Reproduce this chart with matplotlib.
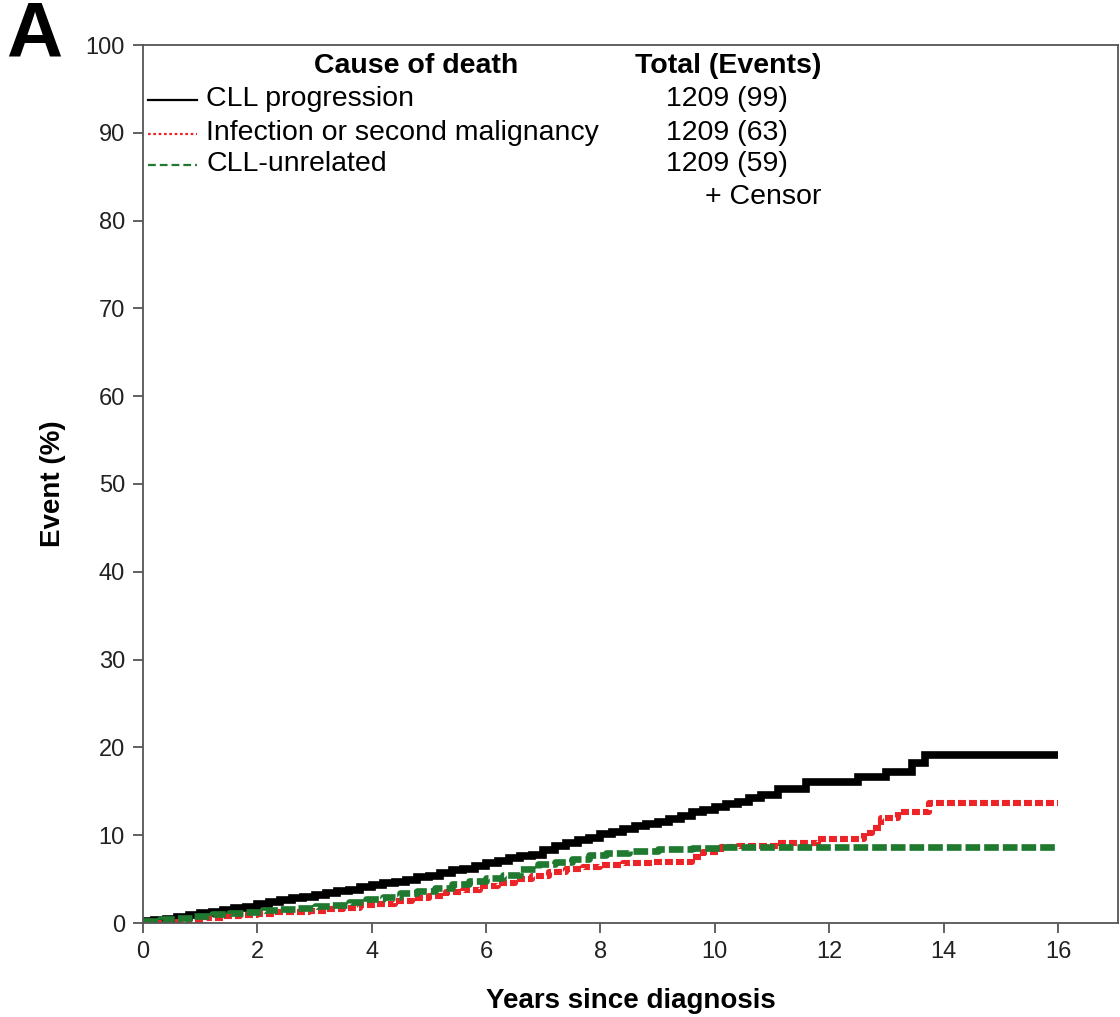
import matplotlib
matplotlib.use("Agg")
import matplotlib.pyplot as plt
from matplotlib.lines import Line2D

plt.rcParams['font.family'] = ['Liberation Sans', 'DejaVu Sans']

# ---- data ----
cll_t = [0, 0.2, 0.4, 0.6, 0.8, 1.0, 1.2, 1.4, 1.6, 1.8, 2.0, 2.2, 2.4, 2.6, 2.8, 3.0,
         3.2, 3.4, 3.6, 3.8, 4.0, 4.2, 4.4, 4.6, 4.8, 5.0, 5.2, 5.4, 5.6, 5.8, 6.0, 6.2,
         6.4, 6.6, 6.8, 7.0, 7.2, 7.4, 7.6, 7.8, 8.0, 8.2, 8.4, 8.6, 8.8, 9.0, 9.2, 9.4,
         9.6, 9.8, 10.0, 10.2, 10.4, 10.6, 10.8, 11.1, 11.6, 12.5, 13.0, 13.45, 13.67, 16.0]
cll_p = [0.2, 0.35, 0.5, 0.7, 0.9, 1.1, 1.3, 1.5, 1.7, 1.85, 2.2, 2.4, 2.6, 2.8, 3.0, 3.2,
         3.4, 3.6, 3.8, 4.1, 4.3, 4.5, 4.7, 4.9, 5.2, 5.4, 5.7, 6.0, 6.2, 6.5, 6.8, 7.1,
         7.4, 7.6, 7.8, 8.3, 8.8, 9.1, 9.4, 9.7, 10.1, 10.4, 10.7, 11.0, 11.3, 11.5, 11.9, 12.2,
         12.6, 12.9, 13.2, 13.5, 13.8, 14.2, 14.6, 15.3, 16.1, 16.6, 17.2, 18.2, 19.1, 19.1]

inf_t = [0, 0.5, 0.8, 1.1, 1.4, 1.7, 2.0, 2.3, 2.6, 2.9, 3.2, 3.5, 3.8, 4.1, 4.4, 4.7,
         5.0, 5.3, 5.6, 5.9, 6.2, 6.5, 6.8, 7.1, 7.4, 7.7, 8.0, 8.4, 8.9, 9.6, 9.8, 10.1,
         10.4, 11.1, 11.8, 12.6, 12.75, 12.9, 13.2, 13.75, 16.0]
inf_p = [0.0, 0.15, 0.35, 0.55, 0.75, 0.9, 1.05, 1.2, 1.3, 1.4, 1.55, 1.75, 2.0, 2.2, 2.5, 2.8,
         3.1, 3.5, 3.8, 4.2, 4.6, 5.0, 5.4, 5.8, 6.1, 6.4, 6.6, 6.8, 7.0, 7.5, 8.1, 8.6,
         8.8, 9.1, 9.6, 10.2, 10.8, 12.0, 12.6, 13.7, 13.7]

unr_t = [0, 0.3, 0.6, 0.9, 1.2, 1.5, 1.8, 2.1, 2.4, 2.7, 3.0, 3.3, 3.6, 3.9, 4.2, 4.5,
         4.8, 5.1, 5.4, 5.7, 6.0, 6.3, 6.6, 6.9, 7.2, 7.5, 7.8, 8.1, 8.5, 9.0, 9.6, 10.1, 16.0]
unr_p = [0.2, 0.4, 0.6, 0.8, 1.0, 1.15, 1.3, 1.45, 1.6, 1.75, 1.9, 2.1, 2.4, 2.7, 3.0, 3.4,
         3.7, 4.0, 4.4, 4.8, 5.1, 5.5, 6.1, 6.7, 7.0, 7.3, 7.7, 8.0, 8.2, 8.4, 8.5, 8.6, 8.6]

series_names = ["CLL progression", "Infection or second malignancy", "CLL-unrelated"]
series_totals = ["1209 (99)", "1209 (63)", "1209 (59)"]
x_ticks = [0, 2, 4, 6, 8, 10, 12, 14, 16]
y_ticks = [0, 10, 20, 30, 40, 50, 60, 70, 80, 90, 100]

BLACK = "#000000"
RED = "#ec2427"
GREEN = "#1f7a30"

W, H = 1120, 1017
fig = plt.figure(figsize=(W / 100, H / 100), dpi=100)
ax = fig.add_axes([143 / W, 1 - 923 / H, (1118 - 143) / W, (923 - 45) / H])

styles = [
    dict(color=BLACK, lw=5.5, ls='-'),
    dict(color=RED, lw=4.4, ls=(0, (1.3, 0.5))),
    dict(color=GREEN, lw=4.8, ls=(0, (2.2, 0.6))),
]
data = [(cll_t, cll_p), (inf_t, inf_p), (unr_t, unr_p)]
for (t, p), st in zip(data, styles):
    ax.step(t, p, where='post', solid_capstyle='butt', dash_capstyle='butt',
            solid_joinstyle='miter', **st)

ax.set_xlim(0, 17.05)
ax.set_ylim(0, 100)
ax.set_xticks(x_ticks)
ax.set_yticks(y_ticks)
spine_col = '#555555'
for s in ax.spines.values():
    s.set_color(spine_col)
    s.set_linewidth(1.3)
ax.tick_params(direction='out', length=7, width=1.3, color=spine_col,
               labelsize=17, labelcolor='#222222', pad=6)

ax.set_xlabel("Years since diagnosis", fontsize=20, fontweight='bold', labelpad=18)
ax.set_ylabel("Event (%)", fontsize=20, fontweight='bold', labelpad=14)

def fx(x):
    return x / W

def fy(y):
    return 1 - y / H

# Panel letter
fig.text(fx(6), fy(36), "A", fontsize=56, fontweight='bold', va='center', ha='left')

# Custom legend
fs = 20.5
fig.text(fx(416), fy(66), "Cause of death", fontsize=fs, fontweight='bold', ha='center', va='center')
fig.text(fx(728), fy(66), "Total (Events)", fontsize=fs, fontweight='bold', ha='center', va='center')
rows_y = [99, 133, 164]
leg_ls = ['-', (0, (1.2, 1.2)), (0, (3.5, 1.8))]
for name, tot, st, lls, yy in zip(series_names, series_totals, styles, leg_ls, rows_y):
    fig.add_artist(Line2D([fx(148), fx(197)], [fy(yy + 1), fy(yy + 1)],
                          transform=fig.transFigure, color=st['color'], lw=1.6, ls=lls))
    fig.text(fx(206), fy(yy), name, fontsize=fs, ha='left', va='center')
    fig.text(fx(727), fy(yy), tot, fontsize=fs, ha='center', va='center')
fig.text(fx(763), fy(197), "+ Censor", fontsize=fs, ha='center', va='center')

fig.savefig("out.png", dpi=100)
